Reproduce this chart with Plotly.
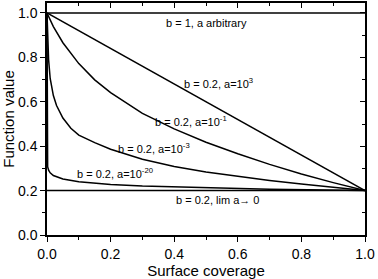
import plotly.graph_objects as go

# ---- data ----
x_lin = [0.0, 0.1, 0.2, 0.3, 0.4, 0.5, 0.6, 0.7, 0.8, 0.9, 1.0]
y_a1e3 = [1.0, 0.92, 0.84, 0.761, 0.681, 0.601, 0.521, 0.44, 0.36, 0.28, 0.2]

x_a1e_1 = [0.0, 0.01, 0.02, 0.05, 0.1, 0.15, 0.2, 0.3, 0.4, 0.5, 0.6, 0.7, 0.8, 0.9, 1.0]
y_a1e_1 = [1.0, 0.968, 0.939, 0.866, 0.772, 0.699, 0.641, 0.548, 0.478, 0.418, 0.366, 0.318, 0.275, 0.236, 0.2]

x_a1e_3 = [0.0, 0.001, 0.002, 0.005, 0.01, 0.02, 0.03, 0.05, 0.075, 0.1, 0.15, 0.2, 0.3, 0.4, 0.5, 0.6, 0.7, 0.8, 0.9, 1.0]
y_a1e_3 = [1.0, 0.92, 0.873, 0.79, 0.705, 0.628, 0.583, 0.527, 0.481, 0.45, 0.416, 0.386, 0.341, 0.309, 0.284, 0.264, 0.246, 0.23, 0.214, 0.2]

x_a1e_20 = [0.0, 0.0002, 0.0005, 0.001, 0.002, 0.005, 0.01, 0.02, 0.05, 0.1, 0.2, 0.3, 0.5, 0.7, 1.0]
y_a1e_20 = [1.0, 0.36, 0.335, 0.32, 0.308, 0.292, 0.28, 0.268, 0.252, 0.24, 0.228, 0.221, 0.212, 0.206, 0.2]

x_flat = [0.0, 1.0]
y_b1 = [1.0, 1.0]
y_lim = [0.2, 0.2]

x_ticks = [0.0, 0.2, 0.4, 0.6, 0.8, 1.0]
x_tick_labels = ["0.0", "0.2", "0.4", "0.6", "0.8", "1.0"]
y_ticks = [0.0, 0.2, 0.4, 0.6, 0.8, 1.0]
y_tick_labels = ["0.0", "0.2", "0.4", "0.6", "0.8", "1.0"]

labels = [
    ("b = 1, a arbitrary", 0.50, 0.957),
    ("b = 0.2, a=10<sup>3</sup>", 0.54, 0.686),
    ("b = 0.2, a=10<sup>-1</sup>", 0.453, 0.512),
    ("b = 0.2, a=10<sup>-3</sup>", 0.337, 0.392),
    ("b = 0.2, a=10<sup>-20</sup>", 0.215, 0.281),
    ("b = 0.2, lim a\u2192 0", 0.537, 0.157),
]

FONT = "Liberation Sans, Arial, sans-serif"
line = dict(color="black", width=1.5)

fig = go.Figure()
for xs, ys in [(x_flat, y_b1), (x_lin, y_a1e3), (x_a1e_1, y_a1e_1),
               (x_a1e_3, y_a1e_3), (x_a1e_20, y_a1e_20), (x_flat, y_lim)]:
    fig.add_trace(go.Scatter(x=xs, y=ys, mode="lines", line=line,
                             showlegend=False, hoverinfo="skip"))
# invisible trace for the mirrored (inside-tick) axes
fig.add_trace(go.Scatter(x=[0], y=[0], xaxis="x2", yaxis="y2", mode="markers",
                         marker=dict(opacity=0), showlegend=False, hoverinfo="skip"))

for text, xv, yv in labels:
    fig.add_annotation(x=xv, y=yv, text=text, showarrow=False,
                       font=dict(family=FONT, size=11, color="black"),
                       xanchor="center", yanchor="middle")

axis_common = dict(showgrid=False, zeroline=False, linecolor="black", linewidth=1.5,
                   tickcolor="black", tickwidth=1.2)

fig.update_layout(
    width=378, height=279,
    margin=dict(l=46, r=12, t=3, b=41),
    paper_bgcolor="white", plot_bgcolor="white",
    font=dict(family=FONT, color="black"),
    xaxis=dict(range=[0, 1.0], tickvals=x_ticks, ticktext=x_tick_labels,
               ticks="outside", ticklen=5, showline=True,
               tickfont=dict(size=14),
               minor=dict(ticks="outside", dtick=0.1, ticklen=3, tickcolor="black", tickwidth=1.2),
               title=dict(text="Surface coverage", font=dict(size=15), standoff=4),
               **axis_common),
    yaxis=dict(range=[0, 1.045], tickvals=y_ticks, ticktext=y_tick_labels,
               ticks="outside", ticklen=5, showline=True,
               tickfont=dict(size=14),
               minor=dict(ticks="outside", dtick=0.1, ticklen=3, tickcolor="black", tickwidth=1.2),
               title=dict(text="Function value", font=dict(size=15), standoff=4),
               **axis_common),
    xaxis2=dict(range=[0, 1.0], overlaying="x", side="top", anchor="y",
                tickvals=x_ticks, ticks="inside", ticklen=5, showticklabels=False,
                showline=True,
                minor=dict(ticks="inside", dtick=0.1, ticklen=3, tickcolor="black", tickwidth=1.2),
                **axis_common),
    yaxis2=dict(range=[0, 1.045], overlaying="y", side="right", anchor="x",
                tickvals=y_ticks, ticks="inside", ticklen=5, showticklabels=False,
                showline=True,
                minor=dict(ticks="inside", dtick=0.1, ticklen=3, tickcolor="black", tickwidth=1.2),
                **axis_common),
)

fig.write_html("out.html", config={"displayModeBar": False},
               post_script="document.body.style.margin='0px';document.body.style.padding='0px';")
